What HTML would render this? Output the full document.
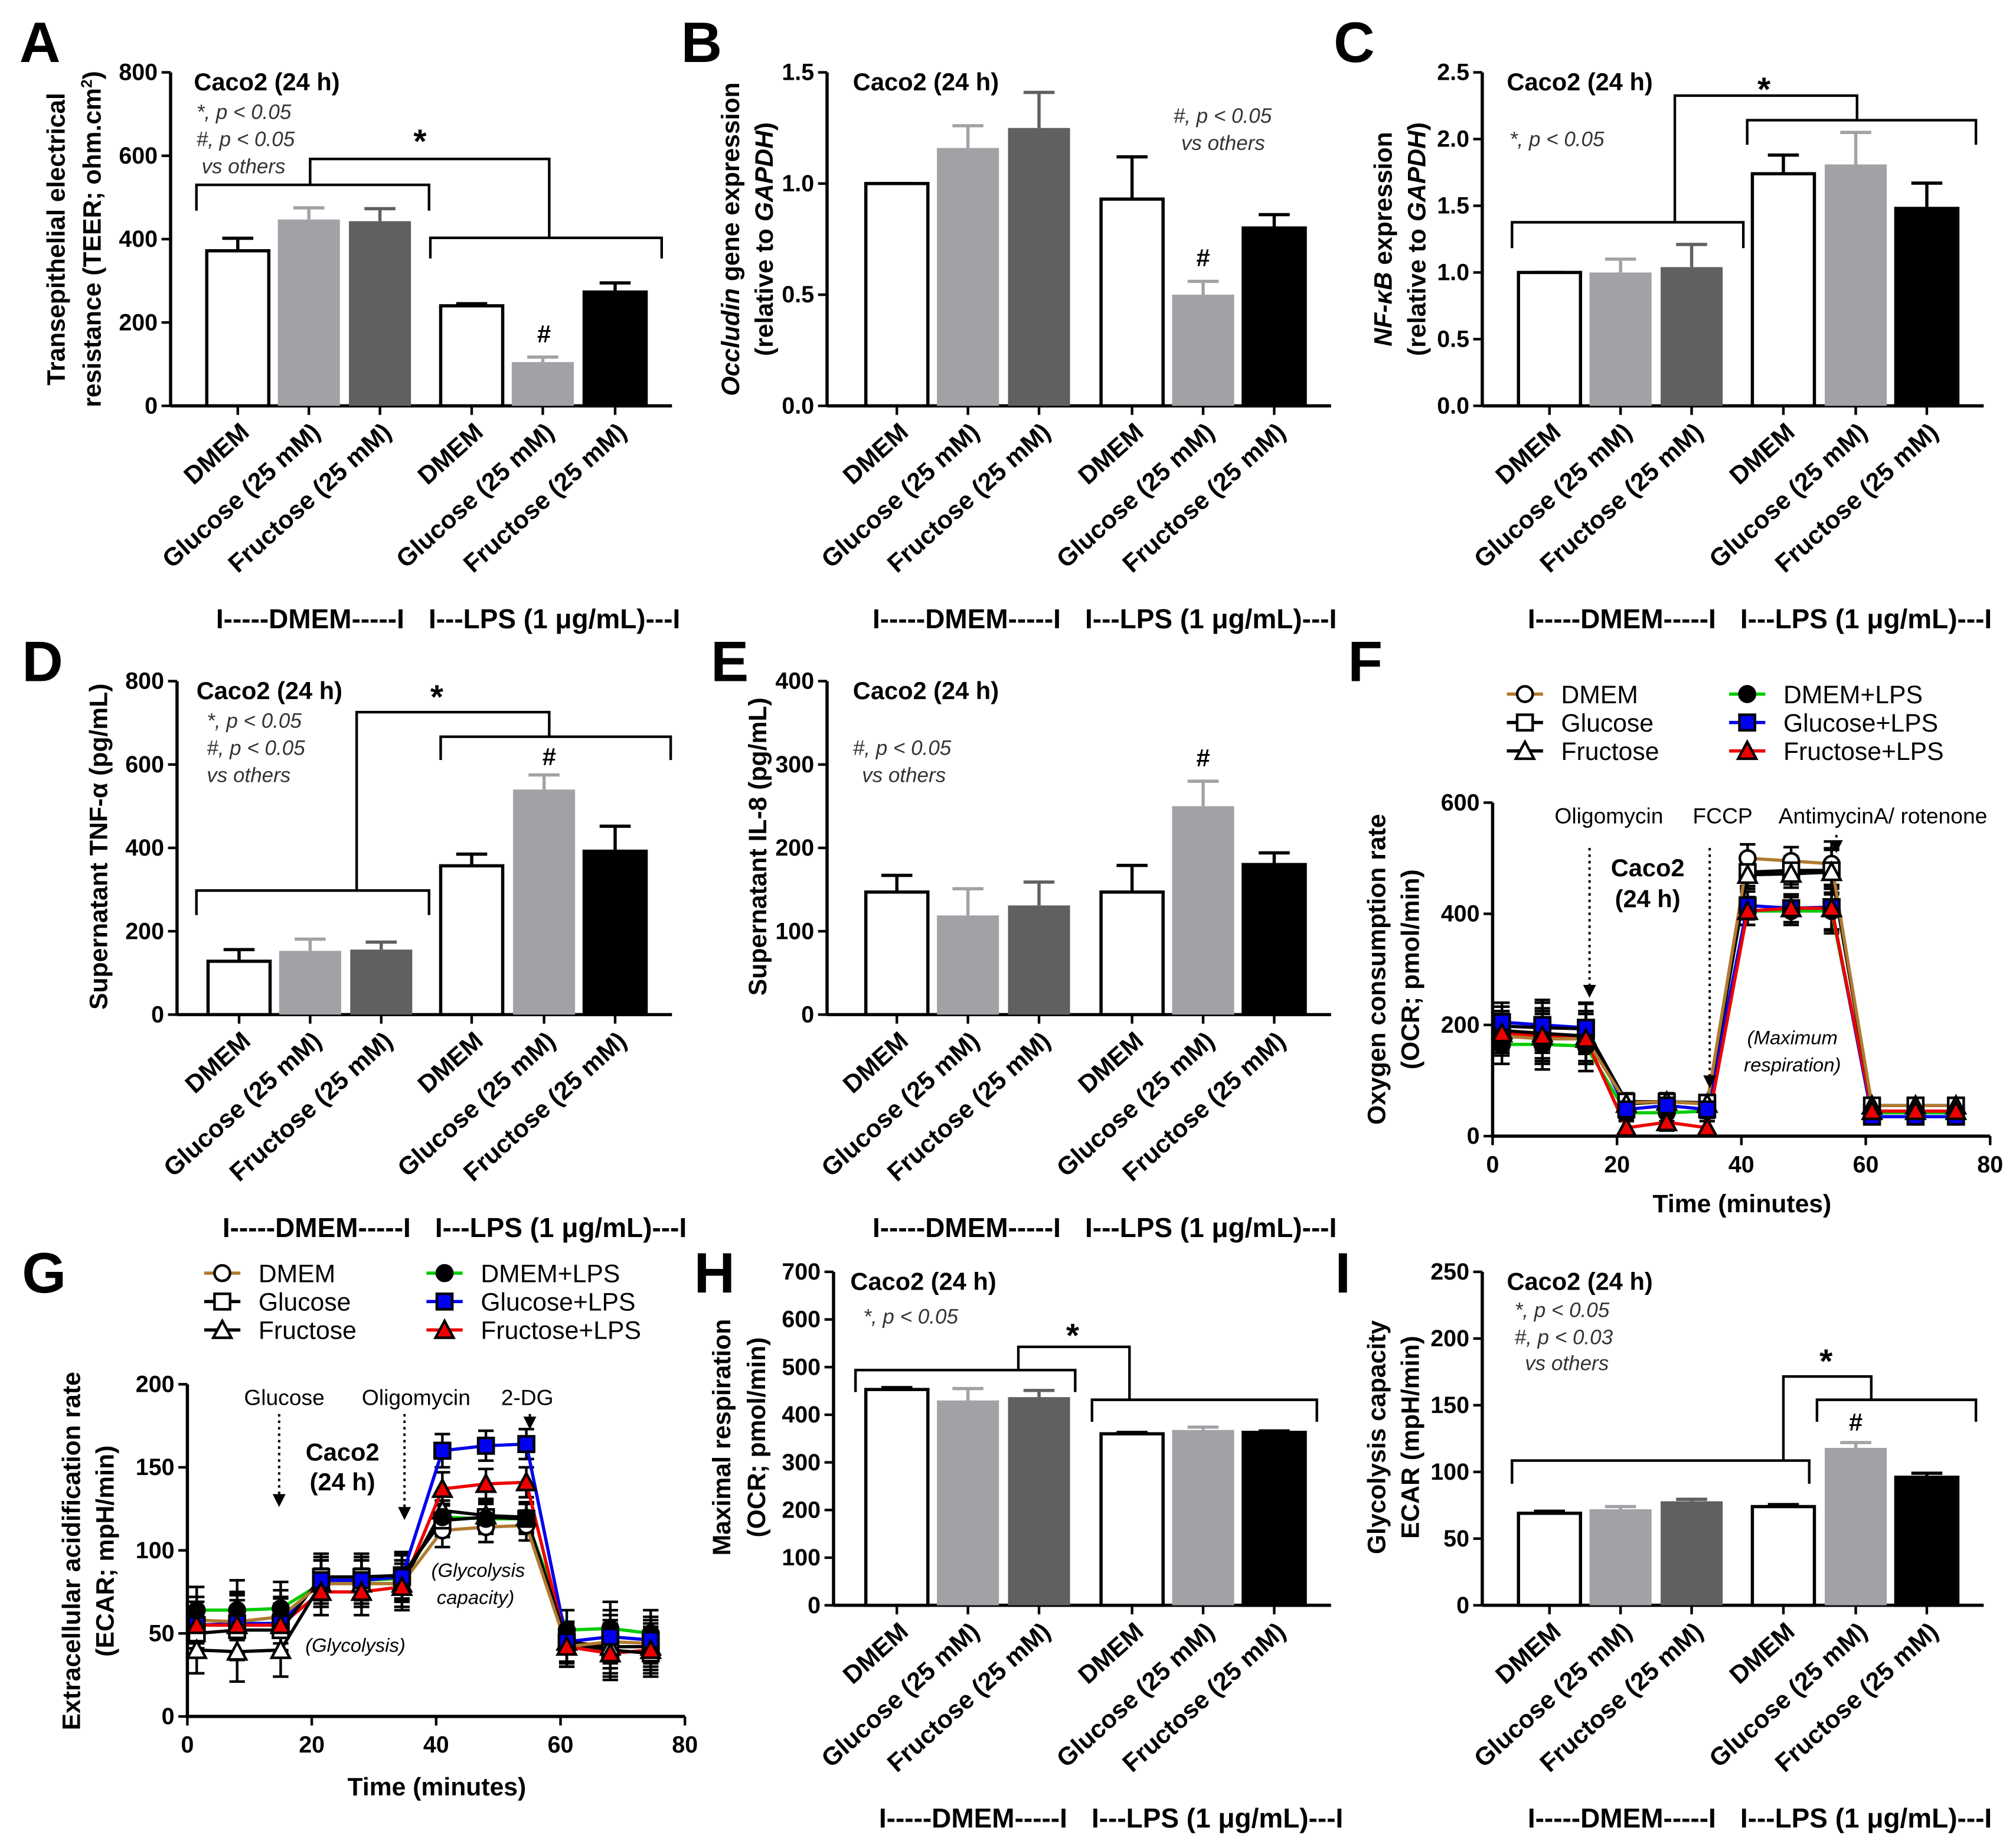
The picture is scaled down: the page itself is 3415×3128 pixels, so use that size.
<!DOCTYPE html>
<html><head><meta charset="utf-8"><style>
html,body{margin:0;padding:0;background:#fff}
svg{display:block}
text{font-family:"Liberation Sans",Arial,sans-serif}
</style></head><body>
<svg id="fig" xmlns="http://www.w3.org/2000/svg" width="3415" height="3128" viewBox="0 0 1560 1429" preserveAspectRatio="none">
<g id="static" fill="none" stroke="#000" stroke-width="2">
<path d="M152,163V143H332V163M333,200V184H512V200M240,143V123H425V184"/>
<path d="M1170,192V172H1349V192M1352,112V93H1529V112M1296,172V74H1437V93"/>
<path d="M152,708V689H332V708M341,588V570H519V588M276,689V551H425V570"/>
<path d="M662,1077V1060H832V1077M845,1100V1083H1019V1100M788,1060V1042H874V1083"/>
<path d="M1170,1148V1130H1400V1148M1406,1100V1083H1529V1100M1380,1130V1065H1448V1083"/>
</g>
</svg>
<script>
// ---------- bar chart data ----------
const barCats = ["DMEM","Glucose (25 mM)","Fructose (25 mM)","DMEM","Glucose (25 mM)","Fructose (25 mM)"];
const barColors = ["#fff","#a2a2a6","#606060","#fff","#a2a2a6","#000"];
const teerVals = [372,447,443,240,105,273];
const teerErr  = [30,28,30,5,12,22];
const occVals = [1.0,1.16,1.25,0.93,0.50,0.80];
const occErr  = [0,0.1,0.16,0.19,0.06,0.06];
const nfkbVals = [1.0,1.0,1.04,1.74,1.81,1.48];
const nfkbErr  = [0,0.1,0.17,0.14,0.24,0.19];
const tnfVals = [128,153,156,357,540,392];
const tnfErr  = [28,28,18,28,35,60];
const il8Vals = [147,119,131,147,250,180];
const il8Err  = [20,32,28,32,30,14];
const maxrVals = [453,430,437,360,368,363];
const maxrErr  = [4,25,14,3,6,3];
const glyVals = [69,72,78,74,118,96];
const glyErr  = [1.5,2,1.5,1.5,4,3];
const ticksTEER = [0,200,400,600,800];
const ticksOcc = ["0.0","0.5","1.0","1.5"];
const ticksNF = ["0.0","0.5","1.0","1.5","2.0","2.5"];
const ticksTNF = [0,200,400,600,800];
const ticksIL8 = [0,100,200,300,400];
const ticksMaxR = [0,100,200,300,400,500,600,700];
const ticksGly = [0,50,100,150,200,250];
// ---------- line chart data ----------
const times = [1.5,8,15,21.5,28,34.5,41,48,54.5,61,68,74.5];
const seriesNames = ["DMEM","Glucose","Fructose","DMEM+LPS","Glucose+LPS","Fructose+LPS"];
const ocrDMEM = [180,175,175,60,62,58,500,495,490,55,55,55];
const ocrGlu  = [198,195,193,62,62,60,475,478,478,55,55,55];
const ocrFru  = [190,185,180,58,62,58,470,472,475,55,55,55];
const ocrDL   = [165,165,162,42,42,45,405,405,405,42,42,42];
const ocrGL   = [205,200,195,48,55,48,415,410,412,35,35,35];
const ocrFL   = [185,180,175,15,25,15,405,410,410,45,45,45];
const ocrErr  = [35,45,45,15,15,12,25,25,40,10,8,8];
const ecDMEM = [58,57,60,80,80,80,112,114,115,42,45,44];
const ecGlu  = [50,52,52,84,84,85,118,120,119,44,40,38];
const ecFru  = [40,39,40,80,80,80,124,121,120,45,42,42];
const ecDL   = [64,64,65,80,82,83,120,119,119,52,53,50];
const ecGL   = [55,56,56,82,82,84,160,163,164,45,48,46];
const ecFL   = [55,55,55,75,75,78,137,140,141,42,38,40];
const ecErr  = [14,18,16,14,14,14,10,9,9,12,16,14];
const ticksTime = [0,20,40,60,80];
const ticksOCR = [0,200,400,600];
const ticksECAR = [0,50,100,150,200];

const NS="http://www.w3.org/2000/svg";
const svg=document.getElementById('fig');
function mk(tag,attrs,parent){const e=document.createElementNS(NS,tag);for(const k in attrs)e.setAttribute(k,attrs[k]);(parent||svg).appendChild(e);return e;}
function txt(x,y,s,opt,name){opt=opt||{};const t=mk('text',{x:x,y:y,'font-size':opt.size||17,'text-anchor':opt.anchor||'start','font-weight':opt.bold?'bold':'normal','font-style':opt.it?'italic':'normal',fill:opt.fill||'#000'});
 if(opt.rot!==undefined)t.setAttribute('transform','rotate('+opt.rot+' '+x+' '+y+')');
 
 
 t.innerHTML=s;return t;}

function barChart(id,ax,y0,top,max,ticks,centers,vals,errs){
 const g=mk('g',{});
 
 
 const ys=v=>y0-(v/max)*(y0-top);
 const xEnd=centers[5]+44;
 mk('line',{x1:ax,y1:y0,x2:xEnd,y2:y0,stroke:'#000','stroke-width':2.5},g);
 mk('line',{x1:ax,y1:y0,x2:ax,y2:top,stroke:'#000','stroke-width':2.5},g);
 ticks.forEach(tk=>{const y=ys(parseFloat(tk));
  mk('line',{x1:ax-7,y1:y,x2:ax,y2:y,stroke:'#000','stroke-width':2},g);
  txt(ax-10,y+6,String(tk),{bold:1,anchor:'end',size:18},'y-tick-label');});
 vals.forEach((v,i)=>{const cx=centers[i],w=48,y=ys(v);
  const eY=ys(v+errs[i]);
  const col=barColors[i]==='#fff'?'#000':barColors[i];
  const el=mk('line',{x1:cx,y1:y,x2:cx,y2:eY,stroke:col,'stroke-width':2.5},g);
  
  const cp=mk('line',{x1:cx-12,y1:eY,x2:cx+12,y2:eY,stroke:col,'stroke-width':2.5},g);
  
  const r=mk('rect',{x:cx-w/2,y:y,width:w,height:y0-y,fill:barColors[i],stroke:(barColors[i]==='#fff'||barColors[i]==='#000')?'#000':'none','stroke-width':2.5},g);
  
  
  mk('line',{x1:cx,y1:y0,x2:cx,y2:y0+7,stroke:'#000','stroke-width':2},g);
  txt(cx+10,y0+22,barCats[i],{bold:1,anchor:'end',rot:-42,size:19.5},'x-tick-label');
 });
 txt(ax+108,y0+172,'I-----DMEM-----I',{bold:1,anchor:'middle',size:21},'group-label-dmem');
 txt(ax+297,y0+172,'I---LPS (1 &#956;g/mL)---I',{bold:1,anchor:'middle',size:21},'group-label-lps');
}
barChart('teer',132,314,56,800,ticksTEER,[184,239,294,365,420,476],teerVals,teerErr);
barChart('occludin',640,314,56,1.5,ticksOcc,[694,749,804,876,931,986],occVals,occErr);
barChart('nfkb',1147,314,56,2.5,ticksNF,[1199,1254,1309,1380,1436,1491],nfkbVals,nfkbErr);
barChart('tnf',137,785,527,800,ticksTNF,[185,240,295,365,421,476],tnfVals,tnfErr);
barChart('il8',640,785,527,400,ticksIL8,[694,749,804,876,931,986],il8Vals,il8Err);
barChart('maxresp',645,1242,984,700,ticksMaxR,[694,749,804,876,931,986],maxrVals,maxrErr);
barChart('glycap',1147,1242,984,250,ticksGly,[1199,1254,1309,1380,1436,1491],glyVals,glyErr);

const lineColors=["#b07a30","#000","#000","#00cc00","#0000ee","#ee0000"];
const markers=["circle-open","square-open","tri-open","circle","square","tri"];
function marker(g,m,x,y,col){let e;const fill=m.indexOf('open')>=0?'#fff':(m==='circle'?'#000':col);
 const st=m==='circle-open'?'#000':'#000';
 if(m.startsWith('circle'))e=mk('circle',{cx:x,cy:y,r:6,fill:fill,stroke:st,'stroke-width':2},g);
 else if(m.startsWith('square'))e=mk('rect',{x:x-6,y:y-6,width:12,height:12,fill:fill,stroke:st,'stroke-width':2},g);
 else e=mk('path',{d:`M${x},${y-7}L${x+7},${y+6}L${x-7},${y+6}Z`,fill:fill,stroke:st,'stroke-width':2},g);
 
 
}
function lineChart(id,x0,x80,y0,ymax,ymaxPix,yt,series,err){
 const g=mk('g',{});
 
 
 const xs=t=>x0+t/80*(x80-x0), ys=v=>y0-v/ymax*(y0-ymaxPix);
 mk('line',{x1:x0,y1:y0,x2:x80,y2:y0,stroke:'#000','stroke-width':2.5},g);
 mk('line',{x1:x0,y1:y0,x2:x0,y2:ymaxPix,stroke:'#000','stroke-width':2.5},g);
 ticksTime.forEach(t=>{mk('line',{x1:xs(t),y1:y0,x2:xs(t),y2:y0+7,stroke:'#000','stroke-width':2},g);
  txt(xs(t),y0+28,String(t),{bold:1,anchor:'middle',size:18},'x-tick-label');});
 yt.forEach(v=>{mk('line',{x1:x0-7,y1:ys(v),x2:x0,y2:ys(v),stroke:'#000','stroke-width':2},g);
  txt(x0-10,ys(v)+6,String(v),{bold:1,anchor:'end',size:18},'y-tick-label');});
 series.forEach((s,si)=>{
  s.forEach((v,i)=>{const e=mk('path',{d:`M${xs(times[i])},${ys(v-err[i])}V${ys(v+err[i])}M${xs(times[i])-6},${ys(v-err[i])}h12M${xs(times[i])-6},${ys(v+err[i])}h12`,stroke:'#000','stroke-width':2,fill:'none'},g);
   });
 });
 [3,4,5,1,2,0].forEach(si=>{const s=series[si];
  const p=mk('polyline',{points:s.map((v,i)=>xs(times[i])+','+ys(v)).join(' '),fill:'none',stroke:lineColors[si],'stroke-width':2.5},g);
  
 });
 series.forEach((s,si)=>s.forEach((v,i)=>marker(g,markers[si],xs(times[i]),ys(v),lineColors[si])));
}
lineChart('ocr',1155,1540,879,600,621,ticksOCR,[ocrDMEM,ocrGlu,ocrFru,ocrDL,ocrGL,ocrFL],ocrErr);
lineChart('ecar',145,530,1328,200,1071,ticksECAR,[ecDMEM,ecGlu,ecFru,ecDL,ecGL,ecFL],ecErr);

function legend(lx,rx,y){[0,1,2,3,4,5].forEach(i=>{const x=i<3?lx:rx,yy=y+(i%3)*22;
 const l=mk('line',{x1:x-14,y1:yy,x2:x+14,y2:yy,stroke:lineColors[i],'stroke-width':2.5});
 
 marker(svg,markers[i],x,yy,lineColors[i]);
 txt(x+28,yy+7,seriesNames[i],{size:19.5},'legend-entry');});}
legend(1180,1352,537); legend(172,344,985);

function arrow(x,y1,y2,name){const l=mk('line',{x1:x,y1:y1,x2:x,y2:y2-8,stroke:'#000','stroke-width':1.8,'stroke-dasharray':'2,3'});
 
 
 mk('path',{d:`M${x-5},${y2-10}L${x+5},${y2-10}L${x},${y2}Z`,fill:'#000'});}
arrow(1230,656,772,'oligomycin-arrow'); arrow(1323,656,842,'fccp-arrow'); arrow(1421,646,660,'antimycin-arrow');
arrow(216,1094,1166,'glucose-arrow'); arrow(313,1094,1176,'oligomycin-arrow-g'); arrow(410,1094,1106,'2dg-arrow');

[['A',15,48],['B',527,48],['C',1032,48],['D',17,527],['E',550,527],['F',1043,527],['G',17,1000],['H',537,1000],['I',1033,1000]].forEach(a=>txt(a[1],a[2],a[0],{bold:1,size:44},'panel-letter-'+a[0].toLowerCase()));
[[150,70],[660,70],[1166,70],[152,541],[660,541],[658,998],[1166,998]].forEach(p=>txt(p[0],p[1],'Caco2 (24 h)',{bold:1,size:19},'chart-subtitle'));
txt(1275,678,'Caco2',{bold:1,size:19,anchor:'middle'},'chart-subtitle');txt(1275,702,'(24 h)',{bold:1,size:19,anchor:'middle'},'chart-subtitle');
txt(265,1130,'Caco2',{bold:1,size:19,anchor:'middle'},'chart-subtitle');txt(265,1153,'(24 h)',{bold:1,size:19,anchor:'middle'},'chart-subtitle');
const I={it:1,size:16,fill:'#333'};
[[152,92,'*, p &lt; 0.05'],[152,113,'#, p &lt; 0.05'],[156,134,'vs others'],[1168,113,'*, p &lt; 0.05'],[160,563,'*, p &lt; 0.05'],[160,584,'#, p &lt; 0.05'],[160,605,'vs others'],[660,584,'#, p &lt; 0.05'],[667,605,'vs others'],[668,1024,'*, p &lt; 0.05'],[1172,1019,'*, p &lt; 0.05'],[1172,1040,'#, p &lt; 0.03'],[1180,1060,'vs others'],[908,95,'#, p &lt; 0.05'],[914,116,'vs others']].forEach(s=>txt(s[0],s[1],s[2],I,'significance-note'));
[[325,118],[1365,78],[338,548],[830,1042],[1413,1062]].forEach(s=>txt(s[0],s[1],'*',{bold:1,size:26,anchor:'middle'},'significance-star'));
[[421,265],[931,206],[425,592],[931,593],[1436,1107]].forEach(s=>txt(s[0],s[1],'#',{bold:1,size:19,anchor:'middle'},'significance-hash'));
txt(1245,637,'Oligomycin',{size:17,anchor:'middle'},'oligomycin-label');txt(1333,637,'FCCP',{size:17,anchor:'middle'},'fccp-label');txt(1457,637,'AntimycinA/ rotenone',{size:17,anchor:'middle'},'antimycin-label');
txt(1387,808,'(Maximum',{it:1,size:15,anchor:'middle'},'annotation');txt(1387,829,'respiration)',{it:1,size:15,anchor:'middle'},'annotation');
txt(220,1087,'Glucose',{size:17,anchor:'middle'},'glucose-label');txt(322,1087,'Oligomycin',{size:17,anchor:'middle'},'oligomycin-label');txt(408,1087,'2-DG',{size:17,anchor:'middle'},'2dg-label');
txt(370,1220,'(Glycolysis',{it:1,size:15,anchor:'middle'},'annotation');txt(368,1241,'capacity)',{it:1,size:15,anchor:'middle'},'annotation');txt(275,1278,'(Glycolysis)',{it:1,size:15,anchor:'middle'},'annotation');
txt(1348,938,'Time (minutes)',{bold:1,size:19.5,anchor:'middle'},'x-axis-title');txt(338,1389,'Time (minutes)',{bold:1,size:19.5,anchor:'middle'},'x-axis-title');
const Y=(x,y,s)=>txt(x,y,s,{bold:1,size:19.5,anchor:'middle',rot:-90},'y-axis-title');
Y(50,185,'Transepithelial electrical');Y(78,185,'resistance (TEER; ohm.cm<tspan font-size="12" dy="-7">2</tspan><tspan dy="7">)</tspan>');
Y(572,185,'<tspan font-style="italic">Occludin</tspan> gene expression');Y(598,185,'(relative to <tspan font-style="italic">GAPDH</tspan>)');
Y(1077,185,'<tspan font-style="italic">NF-&#954;B</tspan> expression');Y(1103,185,'(relative to <tspan font-style="italic">GAPDH</tspan>)');
Y(83,655,'Supernatant TNF-&#945; (pg/mL)');Y(593,655,'Supernatant IL-8 (pg/mL)');
Y(565,1112,'Maximal respiration');Y(592,1112,'(OCR; pmol/min)');
Y(1072,1112,'Glycolysis capacity');Y(1098,1112,'ECAR (mpH/min)');
Y(1072,750,'Oxygen consumption rate');Y(1098,750,'(OCR; pmol/min)');
Y(62,1200,'Extracellular acidification rate');Y(88,1200,'(ECAR; mpH/min)');
</script>
</body></html>
